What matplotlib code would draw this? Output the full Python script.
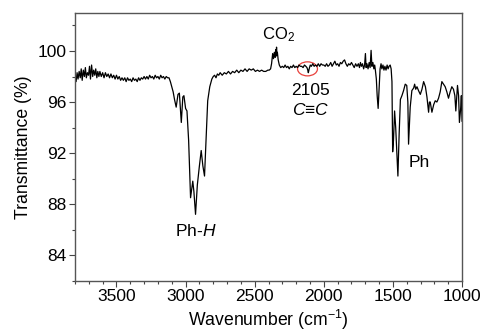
import matplotlib
matplotlib.use("Agg")
import matplotlib.pyplot as plt
from matplotlib.patches import Ellipse
from matplotlib.ticker import MultipleLocator

plt.rcParams['font.family'] = ['Liberation Sans', 'DejaVu Sans']
plt.rcParams['mathtext.fontset'] = 'custom'
plt.rcParams['mathtext.rm'] = 'Liberation Sans'
plt.rcParams['mathtext.it'] = 'Liberation Sans:italic'
plt.rcParams['mathtext.bf'] = 'Liberation Sans:bold'

# ---- data ----
wavenumber_noisy = [3800, 3792, 3785, 3778, 3770, 3762, 3755, 3748, 3740, 3732, 3725, 3718,
                    3710, 3702, 3695, 3688, 3680, 3672, 3665, 3657, 3650, 3642, 3635, 3627,
                    3620, 3610, 3600, 3590, 3580, 3570, 3560, 3550, 3540, 3530, 3520, 3510,
                    3500, 3490, 3480, 3470, 3460, 3450, 3440, 3430, 3420, 3410, 3400, 3390,
                    3380, 3370, 3360, 3350, 3340, 3330, 3320, 3310, 3300, 3290, 3280, 3270,
                    3260, 3250, 3240, 3230, 3220, 3210, 3200, 3190, 3180, 3170, 3160, 3150,
                    3140, 3130, 3120]
transmit_noisy = [98.0, 97.6, 98.3, 97.8, 98.4, 97.9, 98.6, 97.7, 98.5, 98.0, 98.7, 97.9,
                  98.3, 98.1, 98.8, 97.8, 98.9, 98.0, 98.5, 98.1, 98.6, 97.9, 98.4, 98.0,
                  98.4, 98.0, 98.3, 97.9, 98.3, 98.0, 98.2, 97.9, 98.2, 97.9, 98.1, 97.8,
                  98.1, 97.8, 98.0, 97.7, 97.9, 97.7, 97.9, 97.6, 97.9, 97.7, 97.8, 97.6,
                  97.9, 97.7, 97.8, 97.6, 97.9, 97.7, 97.9, 97.8, 98.0, 97.8, 98.0, 97.8,
                  98.1, 97.9, 98.0, 97.8, 98.1, 97.9, 98.0, 97.8, 98.1, 97.9, 98.0, 97.8,
                  98.0, 97.9, 97.9]

wavenumber_ch = [3110, 3100, 3090, 3080, 3068, 3055, 3045, 3031, 3020, 3012, 3000, 2990,
                 2978, 2964, 2948, 2940, 2928, 2915, 2900, 2887, 2875, 2863, 2850, 2840,
                 2825, 2810, 2800, 2790, 2780, 2770, 2760, 2750, 2735, 2720, 2705, 2690,
                 2675, 2660, 2645, 2630, 2615, 2600, 2585, 2570, 2555, 2540, 2525, 2510,
                 2495, 2480, 2465, 2450, 2435, 2420, 2405, 2395]
transmit_ch = [97.6, 97.2, 96.8, 96.2, 95.6, 96.6, 96.7, 94.4, 96.4, 96.5, 95.5, 95.3,
               93.0, 88.5, 89.8, 89.0, 87.2, 89.5, 91.0, 92.2, 91.0, 90.2, 93.5, 96.1,
               97.2, 97.8, 98.0, 98.1, 97.9, 98.2, 98.1, 98.3, 98.1, 98.3, 98.2, 98.4,
               98.2, 98.4, 98.3, 98.5, 98.3, 98.5, 98.4, 98.6, 98.4, 98.6, 98.5, 98.6,
               98.4, 98.5, 98.4, 98.5, 98.4, 98.4, 98.5, 98.5]

wavenumber_co2 = [2385, 2378, 2370, 2364, 2358, 2352, 2348, 2345, 2342, 2339, 2336, 2330,
                  2322, 2312, 2300, 2290, 2280, 2270, 2260, 2250, 2240, 2230, 2220, 2210,
                  2200, 2190, 2180, 2170, 2160, 2150, 2140, 2130, 2122, 2116, 2112, 2106,
                  2098, 2090, 2080, 2070, 2060, 2050, 2040, 2030, 2020, 2010, 2000]
transmit_co2 = [98.6, 99.0, 99.8, 99.4, 99.9, 99.5, 100.1, 99.6, 100.3, 99.7, 99.9, 99.3,
                98.9, 98.7, 98.8, 98.7, 98.9, 98.7, 98.8, 98.6, 98.8, 98.7, 98.9, 98.7,
                98.8, 98.7, 98.9, 98.8, 98.8, 98.7, 98.9, 98.8, 98.7, 98.5, 98.3, 98.6,
                98.9, 98.8, 99.0, 98.8, 98.9, 98.8, 99.0, 98.8, 99.0, 98.9, 98.9]

wavenumber_fp = [1990, 1980, 1970, 1960, 1950, 1940, 1930, 1920, 1910, 1900, 1890, 1880,
                 1870, 1860, 1850, 1840, 1830, 1820, 1810, 1800, 1790, 1780, 1770, 1760,
                 1750, 1742, 1735, 1728, 1720, 1712, 1705, 1699, 1694, 1688, 1680, 1672,
                 1665, 1658, 1652, 1645, 1638, 1632, 1627, 1620, 1614, 1607, 1600, 1593,
                 1586, 1580, 1572, 1565, 1558, 1550, 1542, 1535, 1528, 1520, 1513, 1507]
transmit_fp = [98.8, 99.0, 98.8, 98.9, 99.1, 98.8, 99.0, 99.2, 98.9, 99.0, 98.8, 99.1,
               99.0, 99.2, 99.3, 99.0, 98.8, 99.0, 98.9, 99.1, 98.9, 98.7, 99.0, 98.8,
               99.0, 98.7, 99.1, 98.8, 99.0, 98.6, 98.9, 99.8, 98.7, 99.0, 98.6, 99.1,
               98.7, 100.05, 98.8, 99.1, 98.6, 98.9, 98.5, 97.8, 96.5, 95.5, 97.0, 98.6,
               99.0, 98.6, 98.9, 98.5, 98.8, 98.5, 98.9, 98.6, 98.8, 98.9, 98.6, 97.6]

wavenumber_fp2 = [1502, 1496, 1488, 1480, 1470, 1464, 1455, 1446, 1435, 1423, 1411, 1400,
                  1392, 1387, 1380, 1375, 1363, 1350, 1343, 1335, 1326, 1315, 1302, 1290,
                  1278, 1265, 1254, 1242, 1236, 1230, 1218, 1205, 1194, 1182, 1170, 1158,
                  1146, 1134, 1122, 1110, 1098, 1086, 1074, 1062, 1052, 1045, 1038, 1033,
                  1025, 1019, 1010, 1005, 1000]
transmit_fp2 = [92.1, 93.0, 95.3, 94.0, 91.5, 90.2, 93.5, 96.2, 96.5, 96.9, 97.4, 97.3,
                96.0, 92.7, 94.5, 95.6, 96.9, 97.1, 97.4, 97.0, 97.2, 96.9, 96.6, 97.0,
                97.6, 97.2, 96.4, 95.2, 96.0, 96.0, 95.2, 95.8, 96.1, 96.0, 96.3, 96.8,
                97.6, 97.4, 97.2, 96.8, 96.3, 96.8, 97.2, 97.0, 96.5, 95.3, 96.5, 97.3,
                96.5, 94.4, 95.5, 96.5, 94.5]

x_ticks = [3500, 3000, 2500, 2000, 1500, 1000]
y_ticks = [84, 88, 92, 96, 100]

wn = wavenumber_noisy + wavenumber_ch + wavenumber_co2 + wavenumber_fp + wavenumber_fp2
tr = transmit_noisy + transmit_ch + transmit_co2 + transmit_fp + transmit_fp2

fig = plt.figure(figsize=(4.82, 3.31), dpi=100)
ax = fig.add_axes([0.1556, 0.152, 0.803, 0.8096])
ax.plot(wn, tr, color='black', lw=0.9)

ax.set_xlim(3800, 1000)
ax.set_ylim(82, 103)
ax.set_xticks(x_ticks)
ax.set_yticks(y_ticks)
ax.xaxis.set_minor_locator(MultipleLocator(100))
ax.yaxis.set_minor_locator(MultipleLocator(2))
ax.tick_params(which='major', direction='out', length=4, width=0.8, labelsize=12.5,
               colors='#444444', labelcolor='black', pad=2)
ax.tick_params(which='minor', direction='out', length=2, width=0.8, colors='#444444')
ax.tick_params(top=False, right=False)
for s in ax.spines.values():
    s.set_color('#555555')
    s.set_linewidth(1.0)

ax.set_xlabel('Wavenumber (cm$^{-1}$)', fontsize=12.7, labelpad=3)
ax.set_ylabel('Transmittance (%)', fontsize=12.7, labelpad=4)

ax.text(2330, 101.3, 'CO$_2$', fontsize=12, ha='center', va='center')
ax.text(2095, 96.9, '2105', fontsize=12.5, ha='center', va='center')
ax.text(2095, 95.4, '$C$≡$C$', fontsize=12.5, ha='center', va='center')
ax.text(2923, 85.9, 'Ph-$H$', fontsize=12.5, ha='center', va='center')
ax.text(1387, 91.3, 'Ph', fontsize=12.5, ha='left', va='center')
ax.add_patch(Ellipse((2118, 98.6), 144, 1.1, fill=False, edgecolor='#e8413c', lw=0.9))

fig.savefig('out.png', dpi=100)
